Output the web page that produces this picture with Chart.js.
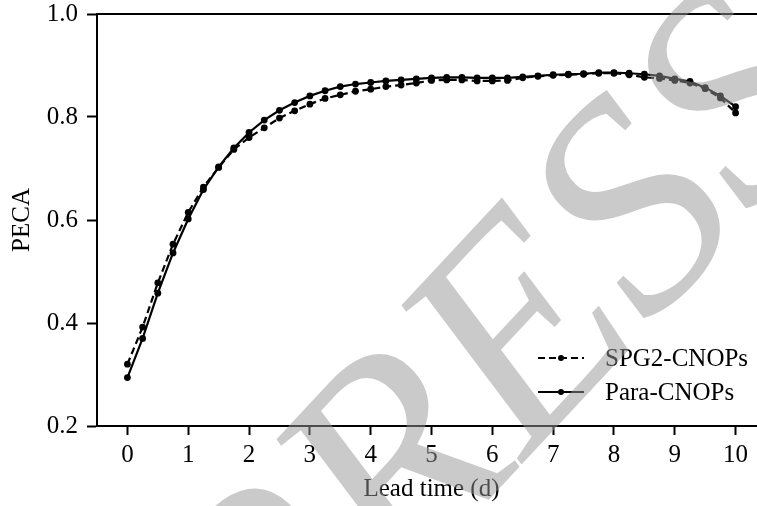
<!DOCTYPE html>
<html>
<head>
<meta charset="utf-8">
<script src="https://cdn.jsdelivr.net/npm/chart.js@4"></script>
<style>
  html, body { margin: 0; padding: 0; background: #fff; overflow: hidden; }
  #wrap { width: 800px; height: 516px; margin-top: -10px; }
  canvas { display: block; }
</style>
</head>
<body>
<div id="wrap"><canvas id="c" width="800" height="516"></canvas></div>
<script>
// ---- data ----
const leadTimes = [0,0.25,0.5,0.75,1,1.25,1.5,1.75,2,2.25,2.5,2.75,3,3.25,3.5,3.75,4,4.25,4.5,4.75,5,5.25,5.5,5.75,6,6.25,6.5,6.75,7,7.25,7.5,7.75,8,8.25,8.5,8.75,9,9.25,9.5,9.75,10];
const spg2Values = [0.320,0.392,0.478,0.553,0.615,0.664,0.702,0.737,0.760,0.779,0.798,0.812,0.825,0.836,0.843,0.850,0.854,0.859,0.862,0.866,0.871,0.872,0.872,0.870,0.870,0.871,0.876,0.879,0.881,0.882,0.883,0.885,0.885,0.882,0.877,0.875,0.871,0.866,0.855,0.837,0.808];
const paraValues = [0.294,0.370,0.458,0.536,0.602,0.659,0.703,0.740,0.770,0.794,0.813,0.828,0.841,0.851,0.859,0.864,0.867,0.870,0.872,0.874,0.876,0.877,0.877,0.876,0.876,0.876,0.878,0.880,0.882,0.883,0.884,0.886,0.886,0.885,0.883,0.880,0.874,0.869,0.857,0.841,0.820];
const xTickValues = [0,1,2,3,4,5,6,7,8,9,10];
const yTickValues = [0.2,0.4,0.6,0.8,1.0];
const seriesNames = ['SPG2-CNOPs','Para-CNOPs'];
const xTitle = 'Lead time (d)';
const yTitle = 'PECA';
const watermarkText = 'PRESS';

const FONT = '"Liberation Serif", "Times New Roman", serif';
const FS = 25;
const OFFSET_Y = 10; // canvas is shifted up by this many pixels

const topBorder = {
  id: 'topBorder',
  beforeDatasetsDraw(chart) {
    const {ctx, chartArea} = chart;
    ctx.save();
    ctx.strokeStyle = '#000';
    ctx.lineWidth = 2;
    ctx.beginPath();
    ctx.moveTo(chartArea.left - 1, chartArea.top);
    ctx.lineTo(chartArea.right, chartArea.top);
    ctx.stroke();
    ctx.restore();
  }
};

const insideLegend = {
  id: 'insideLegend',
  afterDatasetsDraw(chart) {
    const {ctx} = chart;
    ctx.save();
    chart.data.datasets.forEach((ds, i) => {
      const y = 358 + OFFSET_Y + i * 34;
      const x0 = 538, x1 = 584;
      ctx.strokeStyle = '#000';
      ctx.lineWidth = 2.2;
      ctx.setLineDash(ds.borderDash || []);
      ctx.beginPath();
      ctx.moveTo(x0, y);
      ctx.lineTo(x1, y);
      ctx.stroke();
      ctx.setLineDash([]);
      ctx.fillStyle = '#000';
      ctx.beginPath();
      ctx.arc((x0 + x1) / 2, y, 3, 0, Math.PI * 2);
      ctx.fill();
      ctx.font = FS + 'px ' + FONT;
      ctx.textBaseline = 'middle';
      ctx.textAlign = 'left';
      ctx.fillText(ds.label, 605, y + 1);
    });
    ctx.restore();
  }
};

const watermark = {
  id: 'watermark',
  afterDraw(chart) {
    const {ctx} = chart;
    ctx.save();
    ctx.translate(274, 730 + OFFSET_Y);
    ctx.rotate(-47 * Math.PI / 180);
    ctx.font = 'italic 300px ' + FONT;
    ctx.fillStyle = 'rgba(150,150,150,0.5)';
    ctx.textBaseline = 'alphabetic';
    ctx.fillText(watermarkText, 0, 0);
    ctx.restore();
  }
};

new Chart(document.getElementById('c'), {
  type: 'line',
  data: {
    labels: leadTimes,
    datasets: [
      {
        label: seriesNames[0],
        data: leadTimes.map((t, i) => ({x: t, y: spg2Values[i]})),
        borderColor: '#000',
        backgroundColor: '#000',
        borderWidth: 2.2,
        borderDash: [7, 4],
        pointRadius: 3.4,
        pointBorderWidth: 0,
        pointBackgroundColor: '#000',
        tension: 0,
        fill: false
      },
      {
        label: seriesNames[1],
        data: leadTimes.map((t, i) => ({x: t, y: paraValues[i]})),
        borderColor: '#000',
        backgroundColor: '#000',
        borderWidth: 2.2,
        pointRadius: 3.4,
        pointBorderWidth: 0,
        pointBackgroundColor: '#000',
        tension: 0,
        fill: false
      }
    ]
  },
  options: {
    responsive: false,
    animation: false,
    layout: { padding: { left: 0, top: 2, right: 34, bottom: 0 } },
    plugins: {
      legend: { display: false },
      tooltip: { enabled: false }
    },
    scales: {
      x: {
        type: 'linear',
        min: -0.5,
        max: 10.5,
        afterBuildTicks: axis => { axis.ticks = xTickValues.map(v => ({value: v})); },
        afterFit: axis => { axis.height = 80; },
        border: { display: true, color: '#000', width: 2 },
        grid: { drawOnChartArea: false, drawTicks: true, tickLength: 9, tickColor: '#000', tickWidth: 2 },
        ticks: { color: '#000', font: { family: FONT, size: FS }, padding: 5, maxRotation: 0, autoSkip: false,
                 callback: v => String(v) },
        title: { display: true, text: xTitle, color: '#000', font: { family: FONT, size: FS }, padding: { top: 0, bottom: 2 } }
      },
      y: {
        type: 'linear',
        min: 0.2,
        max: 1.0,
        afterBuildTicks: axis => { axis.ticks = yTickValues.map(v => ({value: v})); },
        afterFit: axis => { axis.width = 97; },
        border: { display: true, color: '#000', width: 2 },
        grid: { drawOnChartArea: false, drawTicks: true, tickLength: 10, tickColor: '#000', tickWidth: 2 },
        ticks: { color: '#000', font: { family: FONT, size: FS }, padding: 9,
                 callback: v => Number(v).toFixed(1) },
        title: { display: true, text: yTitle, color: '#000', font: { family: FONT, size: FS }, padding: { top: 7, bottom: 4 } }
      }
    }
  },
  plugins: [topBorder, insideLegend, watermark]
});
</script>
</body>
</html>
